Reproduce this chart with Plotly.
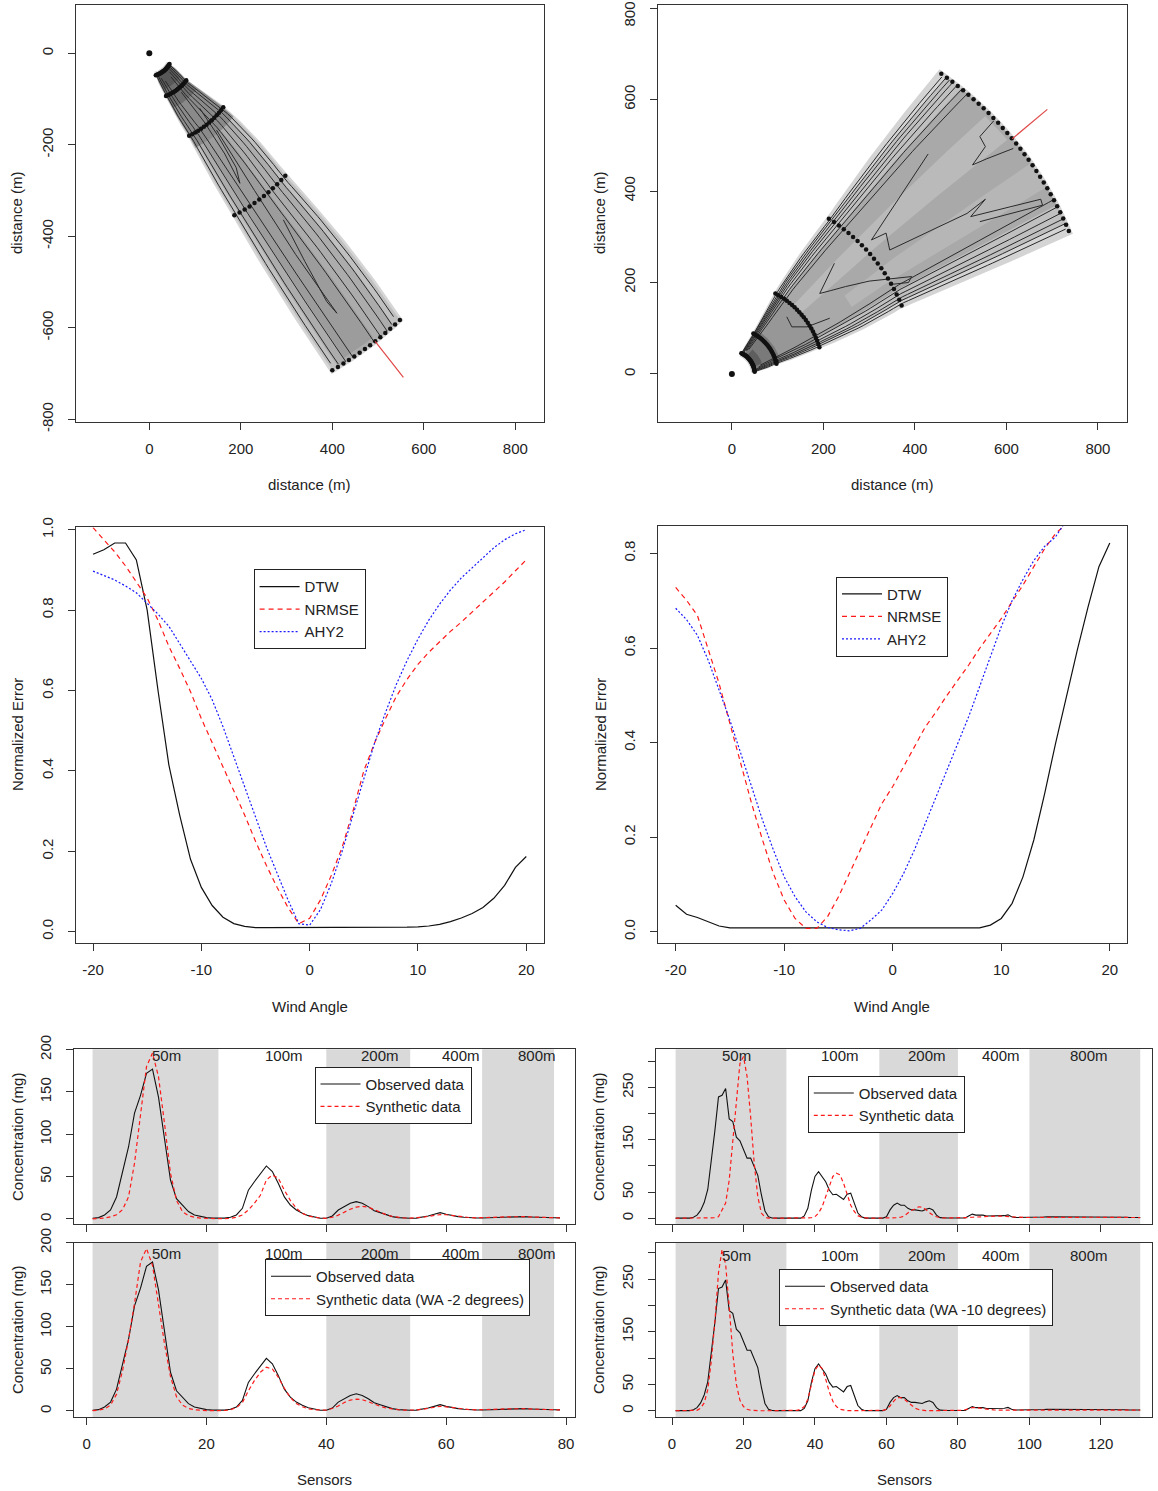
import numpy as np
import plotly.graph_objects as go

FIG_W, FIG_H = 1158, 1491
FONT = "Liberation Sans, Arial, Helvetica, sans-serif"
INK = "#222222"
AXC = "#333333"
RED = "#ff1a1a"
BLUE = "#1a1aff"
BAND_GREY = "#d9d9d9"

# ------------------------------------------------------------------ plume maps
ARC_RADII = [50, 100, 200, 400, 800]
MAP1_ARC_FROM = [-73.5, -68.6, -64.2, -62.3, -60.0]
MAP1_ARC_TO = [-28.0, -36.2, -36.1, -42.0, -46.8]
MAP1_SENSORS = [21, 18, 14, 12, 14]
MAP1_WIND = -51.9
MAP2_ARC_FROM = [65.5, 62.0, 61.6, 58.0, 55.1]
MAP2_ARC_TO = [5.5, 13.0, 17.0, 22.0, 23.0]
MAP2_SENSORS = [31, 26, 22, 20, 31]
MAP2_WIND = 40.0
WIND_LINE_R = [800, 900]
SOURCE_X = [0]
SOURCE_Y = [0]

# concentration zones: crosswind fraction (from/to), radius (from/to)
MAP1_ZONE_F0 = [-0.03, 0.00, 0.08, 0.20, 0.00, 0.05, 0.10]
MAP1_ZONE_F1 = [1.03, 1.00, 0.90, 0.62, 1.00, 0.95, 0.90]
MAP1_ZONE_R0 = [42, 45, 45, 230, 45, 45, 45]
MAP1_ZONE_R1 = [806, 800, 800, 790, 230, 130, 85]
MAP1_ZONE_GREY = ["#d6d6d6", "#c0c0c0", "#acacac", "#9c9c9c", "#8a8a8a", "#6e6e6e", "#585858"]

MAP2_ZONE_F0 = [-0.02, 0.03, 0.12, 0.30, 0.62, 0.05, 0.12, 0.25]
MAP2_ZONE_F1 = [1.02, 0.96, 0.86, 0.46, 0.76, 0.95, 0.88, 0.80]
MAP2_ZONE_R0 = [42, 45, 200, 200, 300, 45, 45, 45]
MAP2_ZONE_R1 = [806, 800, 800, 790, 800, 200, 110, 70]
MAP2_ZONE_GREY = ["#d4d4d4", "#c0c0c0", "#a9a9a9", "#bababa", "#b6b6b6", "#979797", "#7a7a7a", "#5e5e5e"]

# contour lines running along the plume (crosswind fraction, radius from/to)
MAP1_LINE_F = [0.03, 0.10, 0.19, 0.29, 0.60, 0.70, 0.80, 0.89, 0.96]
MAP1_LINE_R0 = [55, 55, 60, 70, 70, 60, 55, 55, 55]
MAP1_LINE_R1 = [785, 795, 800, 800, 800, 800, 800, 795, 785]
MAP1_CURVES_X = [[70, 120, 165, 198, 190, 150, 110],
                 [147, 230, 320, 410, 388, 340, 293]]
MAP1_CURVES_Y = [[-85, -150, -220, -284, -250, -180, -120],
                 [-168, -300, -440, -568, -543, -455, -364]]

MAP2_LINE_F = [0.012, 0.03, 0.05, 0.07, 0.095, 0.125, 0.16, 0.83, 0.87, 0.905, 0.935, 0.96, 0.985]
MAP2_LINE_R0 = [55, 55, 55, 55, 60, 60, 65, 65, 60, 55, 55, 55, 55]
MAP2_LINE_R1 = [795, 798, 800, 800, 800, 800, 800, 800, 800, 800, 800, 798, 795]
MAP2_CURVES_X = [[572, 542, 554, 526, 556, 586, 615],
                 [429, 305, 337, 345, 514, 554, 522, 675, 679, 542],
                 [224, 192, 215, 248, 300, 353, 393, 386, 350],
                 [120, 131, 164, 214]]
MAP2_CURVES_Y = [[553, 519, 497, 457, 470, 481, 493],
                 [481, 293, 308, 271, 351, 382, 344, 382, 369, 333],
                 [242, 176, 182, 191, 203, 209, 213, 200, 196],
                 [125, 103, 103, 122]]

# ------------------------------------------------------------------ error curves
WIND_ANGLE = list(range(-20, 21))
DTW_1 = [0.939, 0.950, 0.967, 0.967, 0.925, 0.800, 0.600, 0.415, 0.290, 0.180,
         0.110, 0.065, 0.036, 0.020, 0.013, 0.010,
         0.010, 0.010, 0.010, 0.010, 0.010, 0.010, 0.010, 0.010, 0.010, 0.010, 0.010, 0.010, 0.010,
         0.011, 0.012, 0.014, 0.018, 0.025, 0.034, 0.045, 0.060, 0.083, 0.115, 0.160, 0.187]
NRMSE_1 = [1.005, 0.975, 0.945, 0.910, 0.870, 0.830, 0.775, 0.710, 0.655, 0.597,
           0.530, 0.470, 0.410, 0.350, 0.290, 0.225, 0.165, 0.110, 0.060, 0.020,
           0.033, 0.079, 0.140, 0.210, 0.300, 0.400, 0.470, 0.530, 0.585, 0.628,
           0.665, 0.695, 0.722, 0.747, 0.770, 0.795, 0.820, 0.845, 0.870, 0.898, 0.925]
AHY2_1 = [0.897, 0.886, 0.875, 0.860, 0.843, 0.817, 0.790, 0.760, 0.717, 0.676,
          0.630, 0.577, 0.510, 0.435, 0.360, 0.286, 0.211, 0.145, 0.079, 0.020,
          0.016, 0.055, 0.120, 0.200, 0.290, 0.385, 0.470, 0.545, 0.615, 0.675,
          0.728, 0.775, 0.815, 0.850, 0.880, 0.905, 0.930, 0.955, 0.975, 0.990, 1.000]
DTW_2 = [0.056, 0.037, 0.030, 0.021, 0.012, 0.008,
         0.008, 0.008, 0.008, 0.008, 0.008, 0.008, 0.008, 0.008, 0.008, 0.008, 0.008, 0.008,
         0.008, 0.008, 0.008, 0.008, 0.008, 0.008, 0.008, 0.008, 0.008, 0.008, 0.008,
         0.014, 0.028, 0.060, 0.116, 0.194, 0.292, 0.398, 0.497, 0.595, 0.687, 0.772, 0.822]
NRMSE_2 = [0.728, 0.701, 0.669, 0.595, 0.525, 0.440, 0.356, 0.271, 0.194, 0.123,
           0.067, 0.028, 0.007, 0.007, 0.032, 0.074, 0.123, 0.173, 0.222, 0.271,
           0.307, 0.349, 0.391, 0.433, 0.465, 0.500, 0.532, 0.564, 0.599, 0.631,
           0.662, 0.698, 0.733, 0.772, 0.810, 0.842, 0.862, 0.900, 0.935, 0.970, 1.000]
AHY2_2 = [0.684, 0.660, 0.627, 0.574, 0.511, 0.447, 0.377, 0.307, 0.236, 0.173,
          0.116, 0.074, 0.042, 0.021, 0.009, 0.004, 0.002, 0.007, 0.025, 0.046,
          0.081, 0.123, 0.173, 0.229, 0.285, 0.342, 0.398, 0.455, 0.518, 0.581,
          0.645, 0.700, 0.745, 0.785, 0.815, 0.835, 0.870, 0.900, 0.930, 0.960, 0.990]

# ------------------------------------------------------------------ sensor profiles
SENSORS_79 = list(range(1, 80))
OBSERVED_79 = [0.8, 1.6, 4.7, 10.6, 26, 54, 85, 125, 146, 172,
               177, 144, 93, 46, 24, 16.5, 8.7, 4.7, 2.8, 1.6,
               1.0, 0.8, 1.0, 2.0, 4.7, 12.6, 34, 44, 54, 62.6,
               56, 42, 26, 16.5, 10.6, 6.7, 3.9, 2.0, 0.8, 0.8,
               3.5, 10.6, 14.6, 18.5, 20.5, 18.5, 14.6, 9.8, 7.5, 4.7,
               2.8, 1.6, 1.0, 0.9, 1.0, 2.0, 3.5, 5.5, 7.5, 5.5,
               3.9, 2.8, 2.0, 1.4, 1.2, 1.2, 1.4, 1.8, 2.2, 2.6,
               2.8, 3.0, 2.8, 2.4, 2.0, 1.8, 1.5, 1.4, 1.3]
SYNTH_79 = [0.2, 0.4, 1.0, 2.5, 5, 11, 26, 66, 125, 180,
            196, 168, 113, 54, 22, 8.7, 4, 2, 1, 0.6,
            0.4, 0.3, 0.3, 0.6, 2, 4.7, 10.6, 18.5, 28, 46,
            52, 48, 34, 22, 12.6, 6.7, 3.5, 2, 1, 0.8,
            2, 4.5, 8, 11.5, 14, 15, 14, 11, 8, 5,
            3, 1.8, 1.2, 1.0, 1.2, 2.0, 3.0, 4.2, 5.2, 5.0,
            4.0, 3.0, 2.2, 1.6, 1.4, 1.4, 1.6, 1.9, 2.2, 2.5,
            2.7, 2.8, 2.7, 2.4, 2.1, 1.8, 1.6, 1.4, 1.3]
SYNTH_79_WA2 = [0.5, 1, 2.5, 7, 20, 48, 85, 128, 177, 193,
                173, 126, 80, 41, 17, 7, 3, 1.5, 0.8, 0.5,
                0.4, 0.4, 0.6, 1.5, 4, 10, 24, 36, 46, 52,
                50, 40, 27, 16, 9, 5, 2.5, 1.5, 1, 1,
                3, 6, 10, 13, 14, 13.5, 11, 8, 5.5, 3.5,
                2.2, 1.5, 1.1, 1.0, 1.2, 2.0, 3.2, 4.5, 5.5, 5.0,
                4.0, 3.0, 2.2, 1.6, 1.4, 1.4, 1.6, 1.9, 2.2, 2.5,
                2.7, 2.8, 2.7, 2.4, 2.1, 1.8, 1.6, 1.4, 1.3]

SENSORS_131 = list(range(1, 132))
OBSERVED_131 = [0.3, 0.3, 0.3, 0.3, 0.3, 2, 6, 15, 30, 55,
                110, 168, 232, 235, 248, 190, 185, 155, 148, 132,
                115, 115, 100, 82, 45, 14, 3, 0.5, 0.3, 0.3,
                0.3, 0.3, 0.3, 0.3, 0.3, 0.3, 4.5, 19, 54, 80,
                89, 80, 70, 54, 45, 46, 41, 36, 46, 48,
                29, 10, 3, 0.3, 0.3, 0.3, 0.3, 0.3, 0.3, 3,
                16, 25, 29, 25, 25, 19, 16, 16, 15, 14,
                17, 19, 16, 6, 1.3, 0.5, 0.5, 0.5, 0.5, 0.5,
                0.5, 0.5, 4.5, 8, 6, 6, 6, 4.5, 4.5, 5,
                4.5, 4.5, 5, 6.5, 3, 1.5, 1.5, 1.5, 1.5, 1.5,
                2, 2, 2.5, 2.5, 3, 3, 2.5, 3, 3, 2.5,
                2.5, 2.5, 2, 2.5, 2.5, 3, 2.5, 2.5, 2, 2,
                2.5, 2.5, 2, 2, 2.5, 2, 2, 1.5, 1.5, 1.5, 1.5]
SYNTH_131 = [0.1, 0.1, 0.1, 0.1, 0.1, 0.1, 0.1, 0.1, 0.1, 0.1,
             0.1, 1, 3, 16, 29, 73, 150, 232, 296, 309,
             271, 194, 105, 41, 10, 2, 0.3, 0.1, 0.1, 0.1,
             0.1, 0.1, 0.1, 0.1, 0.1, 0.1, 0.1, 0.3, 1, 3,
             10, 22, 41, 64, 80, 86, 83, 67, 45, 25,
             13, 5, 2, 0.5, 0.2, 0.2, 0.2, 0.2, 0.2, 0.2,
             0.3, 0.5, 1, 2, 4.5, 10, 15, 18, 22, 21,
             17, 11, 6, 3, 1, 0.5, 0.5, 0.5, 0.5, 0.5,
             0.7, 1, 1.5, 2, 2.5, 3, 3.5, 4, 4.2, 4.5,
             4.3, 4, 3.5, 3, 2.5, 2, 1.6, 1.5, 1.5, 1.5,
             1.6, 1.7, 1.8, 1.9, 2, 2, 2.1, 2.1, 2.2, 2.2,
             2.2, 2.2, 2.2, 2.1, 2.1, 2.1, 2, 2, 2, 1.9,
             1.9, 1.8, 1.8, 1.7, 1.7, 1.6, 1.6, 1.5, 1.5, 1.4, 1.4]
SYNTH_131_WA10 = [0.1, 0.1, 0.1, 0.1, 0.1, 0.1, 1, 5, 15, 40,
                  95, 170, 262, 306, 278, 198, 109, 50, 20, 8,
                  3, 1, 0.3, 0.1, 0.1, 0.1, 0.1, 0.1, 0.1, 0.1,
                  0.1, 0.1, 0.1, 0.3, 1, 3, 8, 22, 50, 77,
                  87, 80, 60, 36, 18, 8, 3, 1, 0.4, 0.2,
                  0.2, 0.2, 0.2, 0.2, 0.2, 0.2, 0.2, 0.2, 1, 3,
                  9, 18, 25, 25, 22, 16, 10, 5, 2.5, 1,
                  0.5, 0.3, 0.3, 0.3, 0.3, 0.3, 0.3, 0.3, 0.3, 0.3,
                  1, 2, 4, 6, 6, 5, 4, 3, 2, 1.6,
                  1.5, 1.5, 1.5, 1.5, 1.5, 1.5, 1.5, 1.5, 1.5, 1.5,
                  1.6, 1.7, 1.8, 1.9, 2, 2, 2.1, 2.1, 2.2, 2.2,
                  2.2, 2.2, 2.2, 2.1, 2.1, 2.1, 2, 2, 2, 1.9,
                  1.9, 1.8, 1.8, 1.7, 1.7, 1.6, 1.6, 1.5, 1.5, 1.4, 1.4]

DIST_LABELS = ["50m", "100m", "200m", "400m", "800m"]
BANDS_79_FROM = [1, 40, 66]
BANDS_79_TO = [22, 54, 78]
BANDS_131_FROM = [1, 58, 100]
BANDS_131_TO = [32, 80, 131]
LABEL_X_79 = [13.3, 33.0, 49.0, 62.4, 75.1]
LABEL_X_131 = [18.1, 47.0, 71.4, 92.1, 116.8]

# ------------------------------------------------------------------ ticks
MAP_X_TICKS = [0, 200, 400, 600, 800]
MAP1_Y_TICKS = [-800, -600, -400, -200, 0]
MAP2_Y_TICKS = [0, 200, 400, 600, 800]
ANGLE_TICKS = [-20, -10, 0, 10, 20]
ERR1_TICKS = [0.0, 0.2, 0.4, 0.6, 0.8, 1.0]
ERR2_TICKS = [0.0, 0.2, 0.4, 0.6, 0.8]
CONC_79_TICKS = [0, 50, 100, 150, 200]
CONC_131_TICKS = [0, 50, 100, 150, 200, 250, 300]
CONC_131_LABELS = ["0", "50", "", "150", "", "250", ""]
SENS_79_TICKS = [0, 20, 40, 60, 80]
SENS_131_TICKS = [0, 20, 40, 60, 80, 100, 120]


# ------------------------------------------------------------------ helpers
def polar_xy(r, th_deg):
    t = np.radians(th_deg)
    return np.asarray(r) * np.cos(t), np.asarray(r) * np.sin(t)


def zone_polygon(a_from, a_to, f0, f1, r0, r1):
    rs = np.linspace(r0, r1, 60)
    a0 = np.interp(rs, ARC_RADII, a_from)
    a1 = np.interp(rs, ARC_RADII, a_to)
    ta = a0 + f0 * (a1 - a0)
    tb = a0 + f1 * (a1 - a0)
    far = np.linspace(ta[-1], tb[-1], 30)
    near = np.linspace(tb[0], ta[0], 30)
    rr = np.concatenate([rs, np.full(30, r1), rs[::-1], np.full(30, r0)])
    tt = np.concatenate([ta, far, tb[::-1], near])
    return polar_xy(rr, tt)


def frac_line(a_from, a_to, f, r0, r1):
    rs = np.linspace(r0, r1, 60)
    a0 = np.interp(rs, ARC_RADII, a_from)
    a1 = np.interp(rs, ARC_RADII, a_to)
    return polar_xy(rs, a0 + f * (a1 - a0))


fig = go.Figure()


def add_map(xa, ya, a_from, a_to, n_sens, wind, zf0, zf1, zr0, zr1, zgrey,
            lf, lr0, lr1, cx, cy):
    for f0, f1, r0, r1, g in zip(zf0, zf1, zr0, zr1, zgrey):
        x, y = zone_polygon(a_from, a_to, f0, f1, r0, r1)
        fig.add_trace(go.Scatter(x=x, y=y, xaxis=xa, yaxis=ya, mode="lines", fill="toself",
                                 fillcolor=g, line=dict(width=0), showlegend=False,
                                 hoverinfo="skip"))
    for f, r0, r1 in zip(lf, lr0, lr1):
        x, y = frac_line(a_from, a_to, f, r0, r1)
        fig.add_trace(go.Scatter(x=x, y=y, xaxis=xa, yaxis=ya, mode="lines",
                                 line=dict(color="#2a2a2a", width=1), showlegend=False,
                                 hoverinfo="skip"))
    for xs, ys in zip(cx, cy):
        fig.add_trace(go.Scatter(x=xs, y=ys, xaxis=xa, yaxis=ya, mode="lines",
                                 line=dict(color="#2a2a2a", width=1), showlegend=False,
                                 hoverinfo="skip"))
    sx, sy = [], []
    for r, a0, a1, n in zip(ARC_RADII, a_from, a_to, n_sens):
        x, y = polar_xy(r, np.linspace(a0, a1, n))
        sx += list(x)
        sy += list(y)
    fig.add_trace(go.Scatter(x=sx, y=sy, xaxis=xa, yaxis=ya, mode="markers",
                             marker=dict(color="#111111", size=4.5), showlegend=False,
                             hoverinfo="skip"))
    wx, wy = polar_xy(WIND_LINE_R, [wind, wind])
    fig.add_trace(go.Scatter(x=wx, y=wy, xaxis=xa, yaxis=ya, mode="lines",
                             line=dict(color="#e04848", width=1.2), showlegend=False,
                             hoverinfo="skip"))
    fig.add_trace(go.Scatter(x=SOURCE_X, y=SOURCE_Y, xaxis=xa, yaxis=ya, mode="markers",
                             marker=dict(color="#111111", size=6), showlegend=False,
                             hoverinfo="skip"))


add_map("x", "y", MAP1_ARC_FROM, MAP1_ARC_TO, MAP1_SENSORS, MAP1_WIND,
        MAP1_ZONE_F0, MAP1_ZONE_F1, MAP1_ZONE_R0, MAP1_ZONE_R1, MAP1_ZONE_GREY,
        MAP1_LINE_F, MAP1_LINE_R0, MAP1_LINE_R1, MAP1_CURVES_X, MAP1_CURVES_Y)
add_map("x2", "y2", MAP2_ARC_FROM, MAP2_ARC_TO, MAP2_SENSORS, MAP2_WIND,
        MAP2_ZONE_F0, MAP2_ZONE_F1, MAP2_ZONE_R0, MAP2_ZONE_R1, MAP2_ZONE_GREY,
        MAP2_LINE_F, MAP2_LINE_R0, MAP2_LINE_R1, MAP2_CURVES_X, MAP2_CURVES_Y)

DASH = "5px,4px"
DOT = "2px,2px"


def add_errors(xa, ya, leg, dtw, nrmse, ahy2):
    fig.add_trace(go.Scatter(x=WIND_ANGLE, y=dtw, xaxis=xa, yaxis=ya, mode="lines", name="DTW",
                             line=dict(color="#111111", width=1.2), legend=leg))
    fig.add_trace(go.Scatter(x=WIND_ANGLE, y=nrmse, xaxis=xa, yaxis=ya, mode="lines", name="NRMSE",
                             line=dict(color=RED, width=1.2, dash=DASH), legend=leg))
    fig.add_trace(go.Scatter(x=WIND_ANGLE, y=ahy2, xaxis=xa, yaxis=ya, mode="lines", name="AHY2",
                             line=dict(color=BLUE, width=1.2, dash=DOT), legend=leg))


add_errors("x3", "y3", "legend", DTW_1, NRMSE_1, AHY2_1)
add_errors("x4", "y4", "legend2", DTW_2, NRMSE_2, AHY2_2)


def add_profile(xa, ya, leg, xs, obs, syn, syn_name):
    fig.add_trace(go.Scatter(x=xs, y=obs, xaxis=xa, yaxis=ya, mode="lines", name="Observed data",
                             line=dict(color="#111111", width=1.1), legend=leg))
    fig.add_trace(go.Scatter(x=xs, y=syn, xaxis=xa, yaxis=ya, mode="lines", name=syn_name,
                             line=dict(color=RED, width=1.2, dash="4px,3px"), legend=leg))


add_profile("x5", "y5", "legend3", SENSORS_79, OBSERVED_79, SYNTH_79, "Synthetic data")
add_profile("x6", "y6", "legend4", SENSORS_79, OBSERVED_79, SYNTH_79_WA2, "Synthetic data (WA -2 degrees)")
add_profile("x7", "y7", "legend5", SENSORS_131, OBSERVED_131, SYNTH_131, "Synthetic data")
add_profile("x8", "y8", "legend6", SENSORS_131, OBSERVED_131, SYNTH_131_WA10, "Synthetic data (WA -10 degrees)")

# ------------------------------------------------------------------ layout
COMMON = dict(showline=True, mirror=True, linecolor=AXC, linewidth=1, ticks="outside",
              ticklen=7, tickwidth=1, tickcolor=AXC, showgrid=False, zeroline=False,
              automargin=False,
              tickfont=dict(family=FONT, size=15, color=INK), tickmode="array", fixedrange=True)


def dom_x(a, b):
    return [a / FIG_W, b / FIG_W]


def dom_y(top, bottom):
    return [1 - bottom / FIG_H, 1 - top / FIG_H]


def fmt(v, dec=0):
    return f"{v:.{dec}f}"


# the top label of the second map sits at the page edge; it is drawn as a note just inside
MAP2_Y_LABELS = [fmt(v) for v in MAP2_Y_TICKS[:-1]] + [""]

# (key, box (left, top, right, bottom) px, xrange, yrange, xticks, xlabels, yticks, ylabels, show x labels)
PANELS = [
    ("", (75.7, 5, 543.6, 421.7), [-160.9, 861.8], [-805.2, 105.6],
     MAP_X_TICKS, [fmt(v) for v in MAP_X_TICKS], MAP1_Y_TICKS, [fmt(v) for v in MAP1_Y_TICKS], True),
    ("2", (658.0, 5, 1126.6, 421.7), [-161.5, 862.7], [-104.3, 806.6],
     MAP_X_TICKS, [fmt(v) for v in MAP_X_TICKS], MAP2_Y_TICKS, MAP2_Y_LABELS, True),
    ("3", (75.7, 527.3, 543.6, 943.3), [-21.6, 21.6], [-0.029, 1.006],
     ANGLE_TICKS, [fmt(v) for v in ANGLE_TICKS], ERR1_TICKS, [fmt(v, 1) for v in ERR1_TICKS], True),
    ("4", (658.1, 526.0, 1126.6, 943.3), [-21.62, 21.55], [-0.0245, 0.858],
     ANGLE_TICKS, [fmt(v) for v in ANGLE_TICKS], ERR2_TICKS, [fmt(v, 1) for v in ERR2_TICKS], True),
    ("5", (74.0, 1049.3, 575.0, 1224.3), [-2.1, 81.5], [-6.3, 200.4],
     SENS_79_TICKS, [fmt(v) for v in SENS_79_TICKS], CONC_79_TICKS, [fmt(v) for v in CONC_79_TICKS], False),
    ("6", (74.0, 1242.7, 575.0, 1417.3), [-2.1, 81.5], [-7.5, 200.0],
     SENS_79_TICKS, [fmt(v) for v in SENS_79_TICKS], CONC_79_TICKS, [fmt(v) for v in CONC_79_TICKS], True),
    ("7", (656.3, 1049.3, 1152.0, 1224.3), [-4.4, 134.3], [-11.5, 323.0],
     SENS_131_TICKS, [fmt(v) for v in SENS_131_TICKS], CONC_131_TICKS, CONC_131_LABELS, False),
    ("8", (656.3, 1242.7, 1152.0, 1417.3), [-4.4, 134.3], [-12.3, 319.0],
     SENS_131_TICKS, [fmt(v) for v in SENS_131_TICKS], CONC_131_TICKS, CONC_131_LABELS, True),
]

layout = dict(width=FIG_W, height=FIG_H, margin=dict(l=0, r=0, t=0, b=0, pad=0, autoexpand=False),
              paper_bgcolor="white", plot_bgcolor="white", showlegend=True,
              font=dict(family=FONT, size=15, color=INK))

for key, (l, t, r, b), xr, yr, xt, xl, yt, yl, showx in PANELS:
    layout["xaxis" + key] = dict(domain=dom_x(l, r), range=xr, anchor="y" + key,
                                 tickvals=xt, ticktext=xl, showticklabels=showx,
                                 ticklabelstandoff=6, **COMMON)
    layout["yaxis" + key] = dict(domain=dom_y(t, b), range=yr, anchor="x" + key,
                                 tickvals=yt, ticktext=yl, tickangle=-90,
                                 ticklabelstandoff=9, **COMMON)

LEG = dict(bgcolor="white", bordercolor=INK, borderwidth=1, xanchor="left", yanchor="top",
           xref="paper", yref="paper", itemwidth=40, tracegroupgap=0,
           font=dict(family=FONT, size=15, color=INK))
for name, (lx, ty) in zip(["legend", "legend2", "legend3", "legend4", "legend5", "legend6"],
                          [(253.6, 569.3), (836.0, 576.7), (314.5, 1066.7),
                           (265.0, 1259.0), (807.8, 1075.7), (779.0, 1269.0)]):
    layout[name] = dict(x=lx / FIG_W, y=1 - ty / FIG_H, **LEG)

shapes = []
annotations = []
for xa, ya, froms, tos in [("x5", "y5", BANDS_79_FROM, BANDS_79_TO),
                           ("x6", "y6", BANDS_79_FROM, BANDS_79_TO),
                           ("x7", "y7", BANDS_131_FROM, BANDS_131_TO),
                           ("x8", "y8", BANDS_131_FROM, BANDS_131_TO)]:
    for a, b in zip(froms, tos):
        shapes.append(dict(type="rect", xref=xa, yref=ya + " domain", x0=a, x1=b, y0=0, y1=1,
                           fillcolor=BAND_GREY, line=dict(width=0), layer="below"))

for xa, ya, lx, yd in [("x5", "y5", LABEL_X_79, 0.962), ("x6", "y6", LABEL_X_79, 0.94),
                       ("x7", "y7", LABEL_X_131, 0.962), ("x8", "y8", LABEL_X_131, 0.925)]:
    for txt, x in zip(DIST_LABELS, lx):
        annotations.append(dict(text=txt, x=x, y=yd, xref=xa, yref=ya + " domain",
                                showarrow=False, font=dict(family=FONT, size=15, color=INK),
                                xanchor="center", yanchor="middle"))

# top tick label of the second map, kept fully on the page
annotations.append(dict(text=fmt(MAP2_Y_TICKS[-1]), x=629 / FIG_W, y=1.0, xref="paper", yref="paper",
                        showarrow=False, textangle=-90, xanchor="center", yanchor="top",
                        font=dict(family=FONT, size=15, color=INK)))

TITLES = [("distance (m)", 309.6, 484, 0), ("distance (m)", 17, 213, -90),
          ("distance (m)", 892.3, 484, 0), ("distance (m)", 600, 213, -90),
          ("Wind Angle", 309.6, 1006, 0), ("Normalized Error", 17, 735, -90),
          ("Wind Angle", 892.3, 1006, 0), ("Normalized Error", 600, 735, -90),
          ("Concentration (mg)", 17, 1137, -90), ("Concentration (mg)", 17, 1330, -90),
          ("Concentration (mg)", 598, 1137, -90), ("Concentration (mg)", 598, 1330, -90),
          ("Sensors", 324.5, 1479, 0), ("Sensors", 904, 1479, 0)]
for txt, px, py, ang in TITLES:
    annotations.append(dict(text=txt, x=px / FIG_W, y=1 - py / FIG_H, xref="paper", yref="paper",
                            showarrow=False, textangle=ang, xanchor="center", yanchor="middle",
                            font=dict(family=FONT, size=15, color=INK)))

layout["shapes"] = shapes
layout["annotations"] = annotations
fig.update_layout(**layout)
fig.write_html("out.html")
